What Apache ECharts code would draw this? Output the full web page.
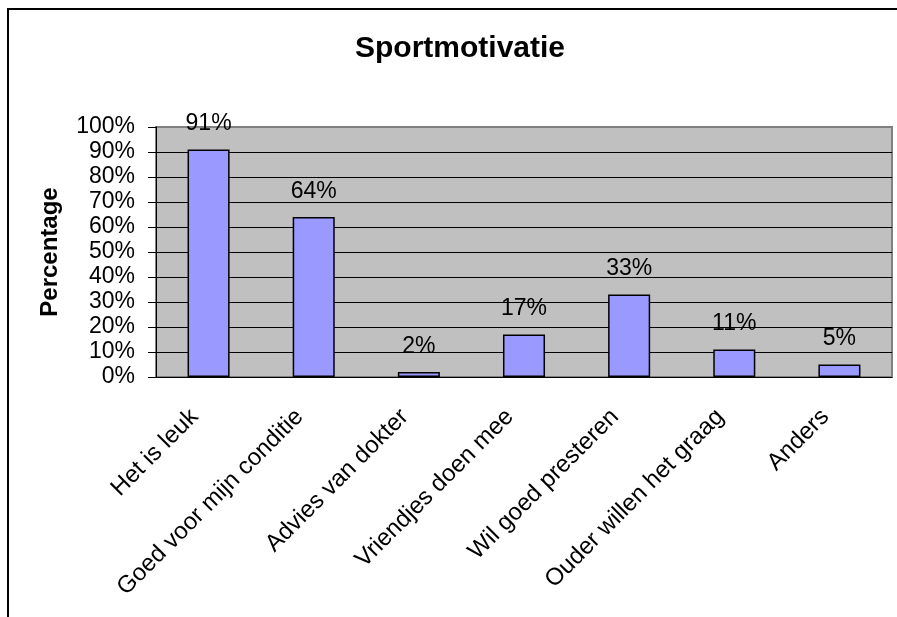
<!DOCTYPE html>
<html lang="nl">
<head>
    <meta charset="UTF-8">
    <title>Sportmotivatie</title>
    <script src="https://cdn.jsdelivr.net/npm/echarts@6.0.0/dist/echarts.min.js"></script>
    <style>
        * { margin: 0; padding: 0; }
        body { background: #fff; }
        #chart { width: 897px; height: 617px; }
    </style>
</head>
<body>
    <div id="chart"></div>
    <script>
        const categories = ['Het is leuk', 'Goed voor mijn conditie', 'Advies van dokter', 'Vriendjes doen mee',
            'Wil goed presteren', 'Ouder willen het graag', 'Anders'];
        const percentages = [91, 64, 2, 17, 33, 11, 5];
        const yTicks = { min: 0, max: 100, interval: 10 };

        const font = '"Liberation Sans", Arial, sans-serif';
        // last split line (100%) sits on the grey plot border
        const gridColors = ['#000', '#000', '#000', '#000', '#000', '#000', '#000', '#000', '#000', '#000', '#808080'];

        const chart = echarts.init(document.getElementById('chart'), null, { renderer: 'canvas' });
        chart.setOption({
            animation: false,
            textStyle: { fontFamily: font },
            graphic: [{
                type: 'rect',
                shape: { x: 8, y: 9, width: 1000, height: 1000 },
                style: { fill: 'none', stroke: '#000', lineWidth: 2 }
            }],
            title: {
                text: 'Sportmotivatie',
                left: 355,
                top: 34,
                padding: 0,
                textStyle: { fontFamily: font, fontSize: 30, fontWeight: 'bold', color: '#000' }
            },
            grid: {
                left: 156, top: 127, right: 5, bottom: 240,
                show: true,
                backgroundColor: '#C0C0C0',
                borderColor: '#808080',
                borderWidth: 2
            },
            xAxis: {
                type: 'category',
                data: categories,
                axisLine: { lineStyle: { color: '#000', width: 1 } },
                axisTick: { length: 8, lineStyle: { color: '#000' } },
                axisLabel: {
                    rotate: 45, interval: 0, margin: 22,
                    padding: [0, 20, 0, 0],
                    fontSize: 24, color: '#000', fontFamily: font
                }
            },
            yAxis: {
                type: 'value',
                min: yTicks.min, max: yTicks.max, interval: yTicks.interval,
                name: 'Percentage',
                nameLocation: 'middle',
                nameRotate: 90,
                nameGap: 94,
                nameTextStyle: { fontSize: 24, fontWeight: 'bold', color: '#000', fontFamily: font },
                axisLine: { show: true, lineStyle: { color: '#000', width: 1 } },
                axisTick: { show: true, length: 8, lineStyle: { color: '#000' } },
                axisLabel: { formatter: '{value}%', fontSize: 23, color: '#000', margin: 21, fontFamily: font },
                splitLine: { lineStyle: { color: gridColors, width: 1 } }
            },
            series: [{
                type: 'bar',
                data: percentages,
                barWidth: '40%',
                itemStyle: { color: '#9999FF', borderColor: '#000', borderWidth: 1.5 },
                label: {
                    show: true, position: 'top', distance: 14,
                    formatter: '{c}%', fontSize: 23, color: '#000', fontFamily: font
                }
            }]
        });
    </script>
</body>
</html>
